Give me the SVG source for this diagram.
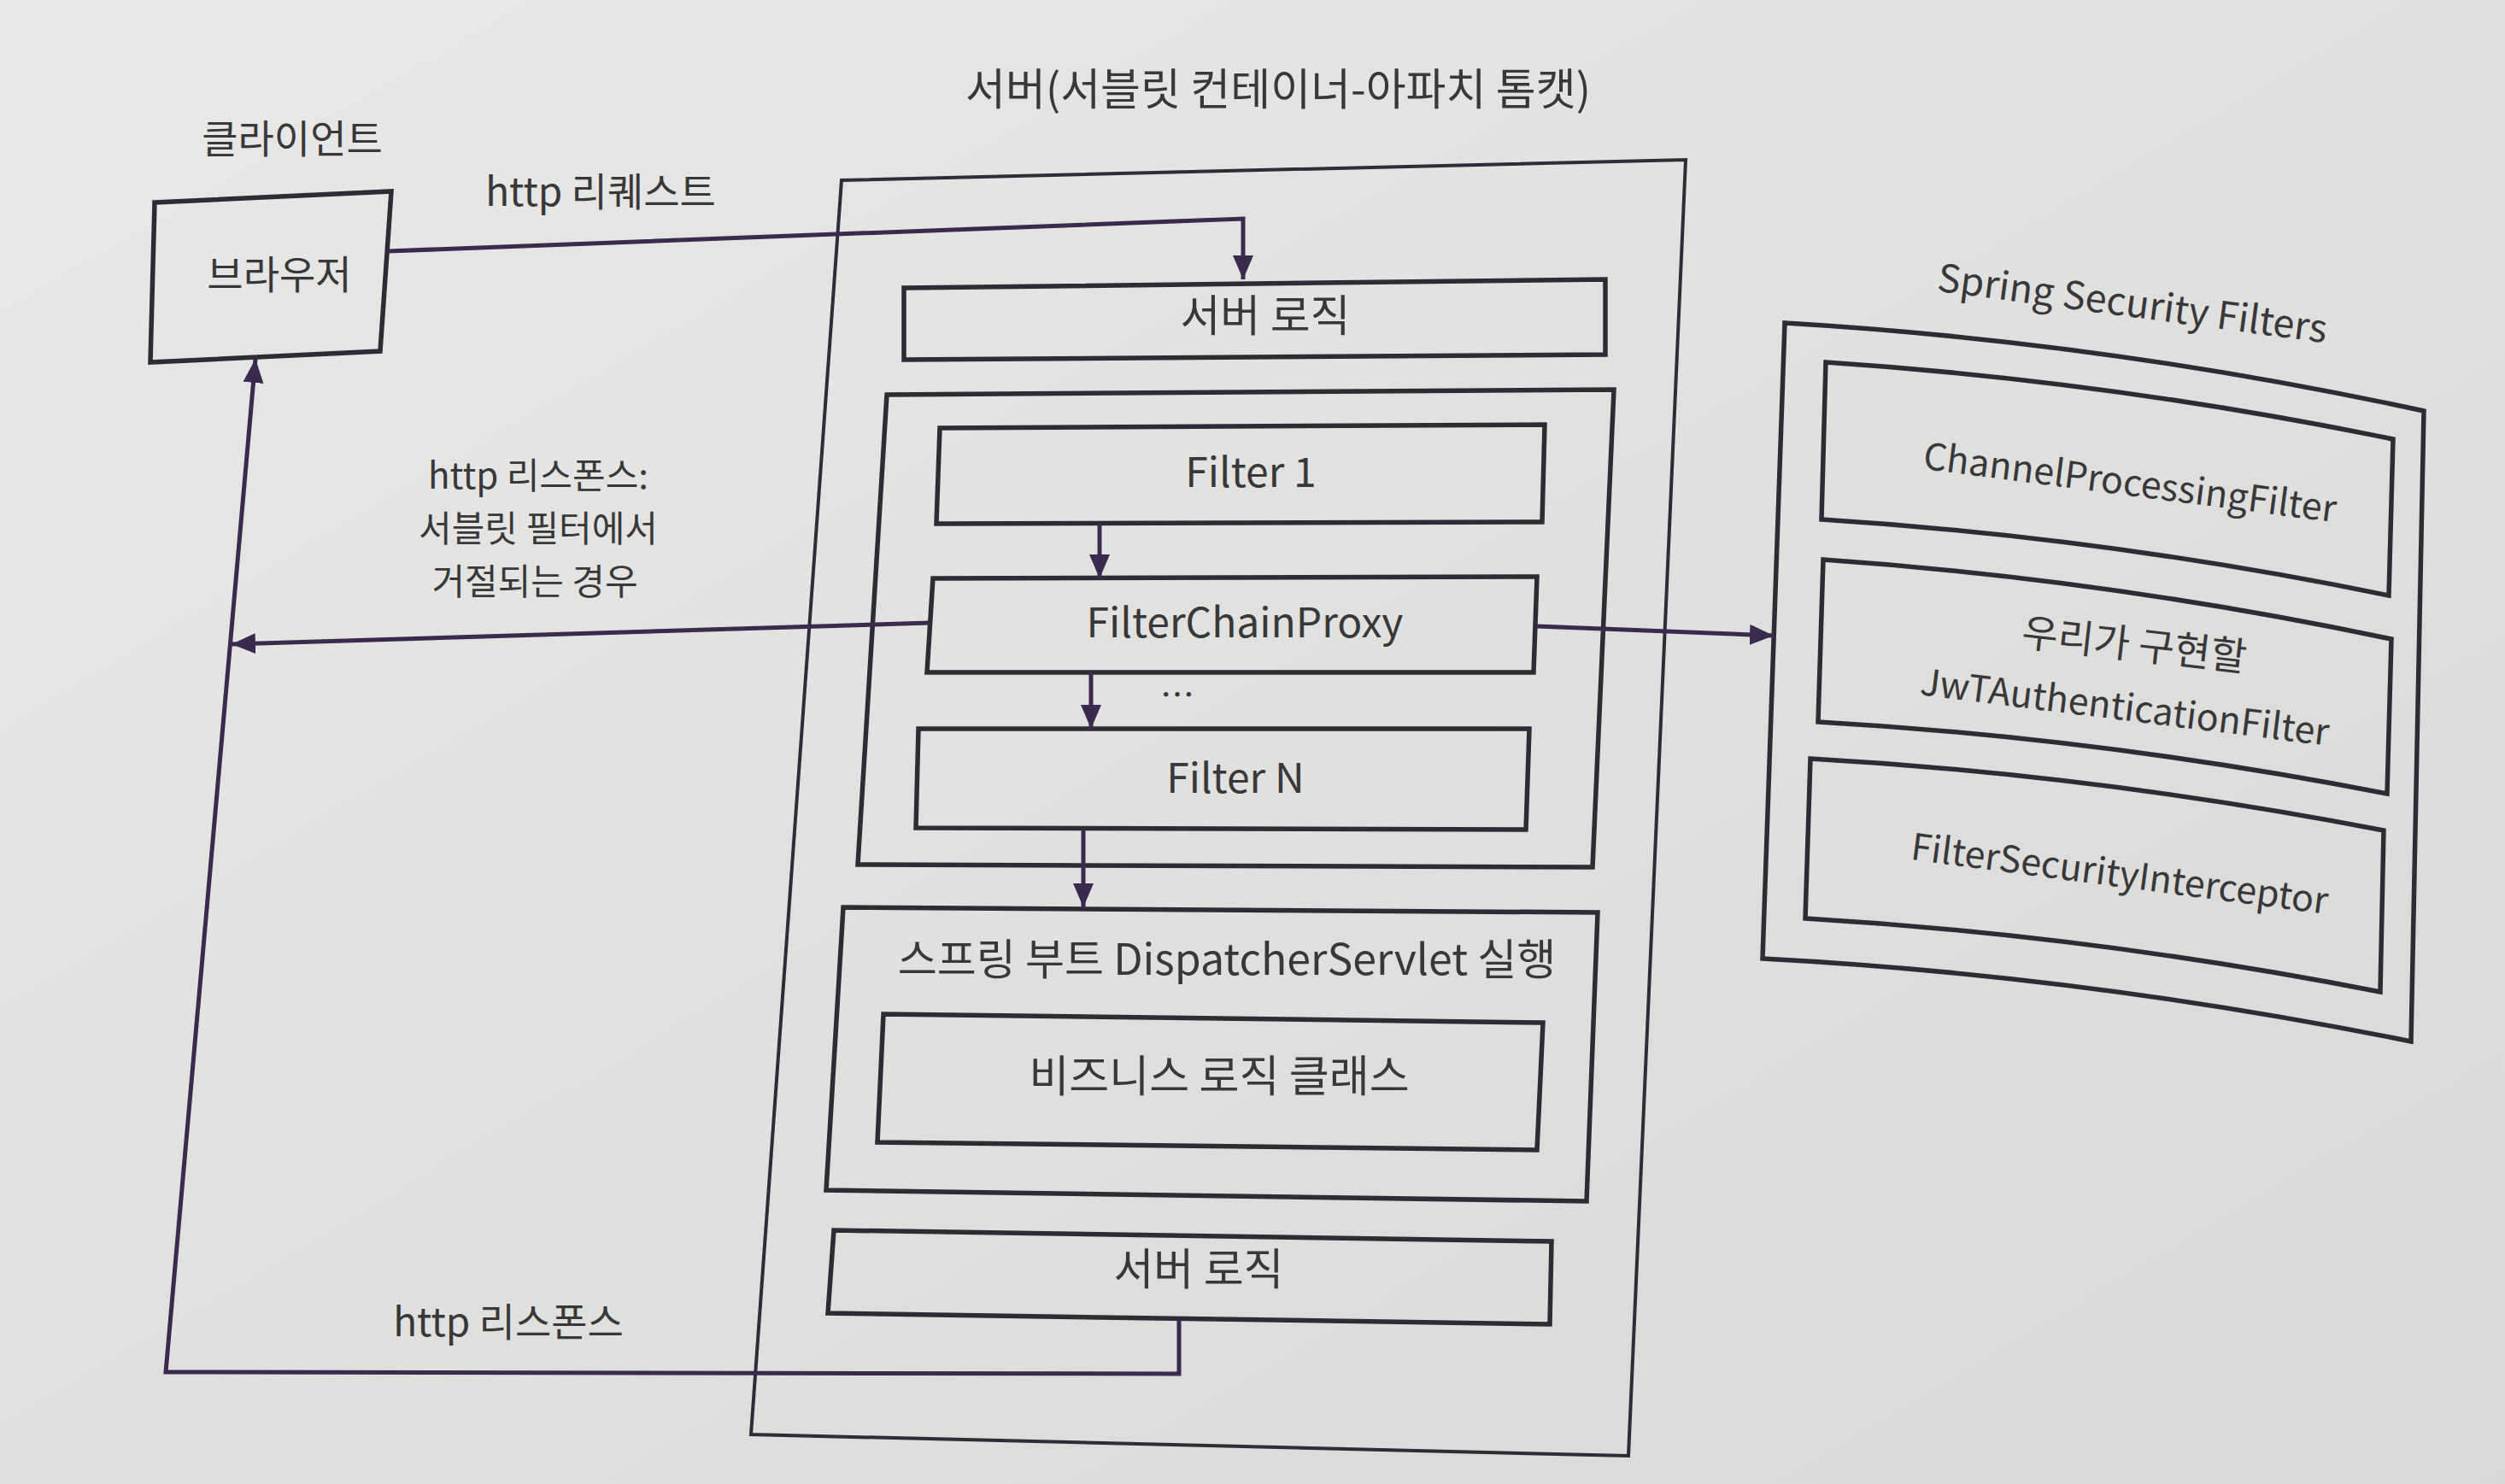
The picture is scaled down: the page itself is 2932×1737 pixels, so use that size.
<svg xmlns="http://www.w3.org/2000/svg" width="2932" height="1737" viewBox="0 0 2932 1737">
<defs>
<linearGradient id="bg" x1="0" y1="0" x2="1" y2="1">
<stop offset="0" stop-color="#e8e8e6"/>
<stop offset="1" stop-color="#d8d8d6"/>
</linearGradient>
<marker id="ah" markerWidth="30" markerHeight="24" refX="28" refY="12" orient="auto" markerUnits="userSpaceOnUse">
<path d="M0,0 L28,12 L0,24 Z" fill="#3c2a4e"/>
</marker>
</defs>
<style>
.box{fill:none;stroke:#2f2b36;stroke-width:5.5;stroke-linejoin:miter}
.outer{fill:none;stroke:#2f2b3a;stroke-width:4}
.con{fill:none;stroke:#3c2a4e;stroke-width:5}
.t{font-family:"Noto Sans CJK KR","Noto Sans",sans-serif;fill:#383838;text-anchor:middle}
.m{font-size:48px}
.k{font-size:51px}
.s{font-size:43px}
.ks{font-size:46px}
.lb{font-size:42px}
</style>
<rect x="0" y="0" width="2932" height="1737" fill="url(#bg)"/>

<g id="client-label"><text class="t ks" x="342" y="179">클라이언트</text></g>
<g id="server-title"><text class="t k" x="1496" y="123">서버(서블릿 컨테이너-아파치 톰캣)</text></g>

<g id="browser">
<path class="box" d="M181,237 L458,224 L445,411 L176,424 Z"/>
<text class="t ks" x="327" y="338">브라우저</text>
</g>

<g id="server">
<path class="outer" d="M985,211 L1973,187 L1906,1704 L879,1679 Z"/>
</g>

<g id="server-logic-top">
<path class="box" d="M1058,337 L1879,327 L1879,415 L1058,421 Z"/>
<text class="t k" x="1481" y="388">서버 로직</text>
</g>

<g id="filter-group">
<path class="box" d="M1038,462 L1889,456 L1864,1015 L1004,1012 Z"/>
</g>

<g id="filter1">
<path class="box" d="M1100,501 L1808,497 L1805,611 L1096,613 Z"/>
<text class="t m" x="1464" y="570">Filter 1</text>
</g>

<g id="filterchainproxy">
<path class="box" d="M1092,677 L1799,675 L1795,787 L1085,787 Z"/>
<text class="t m" x="1457" y="746">FilterChainProxy</text>
</g>

<g id="ellipsis"><text class="t" style="font-size:40px" x="1378" y="828">…</text></g>

<g id="filterN">
<path class="box" d="M1075,853 L1790,853 L1786,971 L1072,969 Z"/>
<text class="t m" x="1446" y="928">Filter N</text>
</g>

<g id="dispatcher">
<path class="box" d="M987,1062 L1870,1068 L1857,1406 L967,1393 Z"/>
<text class="t" style="font-size:50px" x="1436" y="1141">스프링 부트 DispatcherServlet 실행</text>
</g>

<g id="business">
<path class="box" d="M1034,1187 L1806,1197 L1799,1346 L1027,1337 Z"/>
<text class="t k" x="1427" y="1278">비즈니스 로직 클래스</text>
</g>

<g id="server-logic-bottom">
<path class="box" d="M976,1440 L1816,1453 L1814,1550 L969,1537 Z"/>
<text class="t k" x="1403" y="1504">서버 로직</text>
</g>

<g id="spring-security">
<text class="t" style="font-size:45px" x="2496" y="371" transform="rotate(7.6 2496 355)">Spring Security Filters</text>
<path class="box" d="M2089,378 Q2463,400 2837,481 L2822,1219 Q2442,1142 2063,1122 Z"/>
</g>

<g id="channel-filter">
<path class="box" d="M2137,424 Q2469,446 2801,514 L2796,697 Q2464,629 2132,608 Z"/>
<text class="t s" x="2493" y="580" transform="rotate(7.4 2493 565)">ChannelProcessingFilter</text>
</g>

<g id="jwt-filter">
<path class="box" d="M2134,655 Q2466,678 2799,748 L2794,929 Q2461,864 2128,845 Z"/>
<text class="t ks" x="2498" y="771" transform="rotate(6.5 2498 755)">우리가 구현할</text>
<text class="t s" x="2487" y="843" transform="rotate(7.1 2487 828)">JwTAuthenticationFilter</text>
</g>

<g id="fsi-filter">
<path class="box" d="M2119,888 Q2454,907 2790,972 L2786,1161 Q2450,1095 2113,1075 Z"/>
<text class="t s" x="2481" y="1038" transform="rotate(7.5 2481 1023)">FilterSecurityInterceptor</text>
</g>

<g id="connectors">
<polyline class="con" points="454,294 1455,256 1455,327" marker-end="url(#ah)"/>
<line class="con" x1="1287" y1="613" x2="1287" y2="677" marker-end="url(#ah)"/>
<line class="con" x1="1277" y1="787" x2="1277" y2="853" marker-end="url(#ah)"/>
<line class="con" x1="1268" y1="971" x2="1268" y2="1062" marker-end="url(#ah)"/>
<polyline class="con" points="1380,1545 1380,1608 194,1606 299,420" marker-end="url(#ah)"/>
<line class="con" x1="1088" y1="729" x2="271" y2="754" marker-end="url(#ah)"/>
<line class="con" x1="1799" y1="733" x2="2076" y2="744" marker-end="url(#ah)"/>
<text class="t ks" x="703" y="241">http 리퀘스트</text>
<text class="t lb" x="630" y="572">http 리스폰스:</text>
<text class="t lb" x="630" y="634">서블릿 필터에서</text>
<text class="t lb" x="626" y="696">거절되는 경우</text>
<text class="t ks" x="595" y="1564">http 리스폰스</text>
</g>
</svg>
